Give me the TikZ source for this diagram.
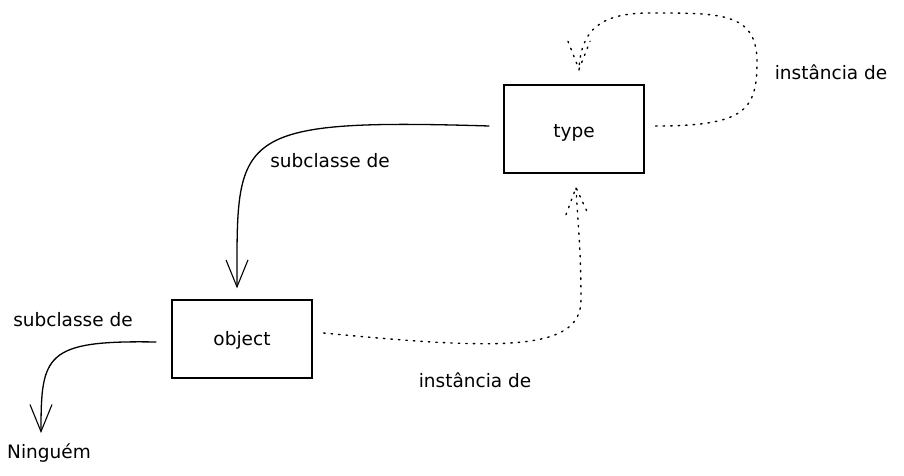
\documentclass[tikz,border=0pt]{standalone}
\usepackage{fontspec}
\setmainfont{DejaVu Sans}
\usetikzlibrary{arrows.meta,calc}
\begin{document}
\begin{tikzpicture}[x=1pt,y=-1pt,
  box/.style={draw=black,line width=1.3pt,minimum width=140pt,inner sep=0pt},
  lbl/.style={font=\fontsize{18.5}{22}\selectfont,inner sep=0pt,anchor=center},
  solidarrow/.style={line width=1.3pt,-{Straight Barb[length=27pt,width=22pt,line width=1.1pt]}},
  dotline/.style={line width=1.4pt,dash pattern=on 1.5pt off 6pt,line cap=round}
]
\useasboundingbox (0,0) rectangle (904,475);
\node[box,minimum height=88pt] (type) at (574,129) {};
\node[lbl] (typetxt) at (574,133) {type};
\node[box,minimum height=78pt] (object) at (242,339) {};
\node[lbl] (objtxt) at (242,340) {object};
% coordinates
\coordinate (s1) at ($(type.west)+(-14,-3)$);
\coordinate (t1) at ($(object.north)+(-5,-11)$);
\coordinate (s2) at ($(object.west)+(-15,3)$);
\coordinate (t2) at (41,433);
\coordinate (s3) at ($(object.east)+(11,-6)$);
\coordinate (t3) at ($(type.south)+(2,14)$);
\coordinate (s4) at ($(type.east)+(11,-3)$);
\coordinate (t4) at ($(type.north)+(5,-15)$);
% solid arrows
\draw[solidarrow] (s1) .. controls (230,118) and (237,135) .. (t1);
\draw[solidarrow] (s2) .. controls (45,340) and (41,355) .. (t2);
% dotted arrows
\draw[dotline] (s3) .. controls (500,350) and (581,352) .. (581,300) .. controls (581,250) and (578,225) .. (t3);
\draw[dotline] ($(t3)+(-10,27)$) -- (t3) -- ($(t3)+(12,26)$);
\draw[dotline] (s4) .. controls (745,126) and (757,110) .. (757,62) .. controls (757,12) and (720,13) .. (650,13) .. controls (600,13) and (581,30) .. (t4);
\draw[dotline] ($(t4)+(-11,-28)$) -- (t4) -- ($(t4)+(11,-28)$);
% labels
\node[lbl] (l1) at (330,161) {subclasse de};
\node[lbl] (l2) at (73,320) {subclasse de};
\node[lbl] (l3) at (831,72) {instância de};
\node[lbl] (l4) at (475,380) {instância de};
\node[lbl] (l5) at (49,453) {Ninguém};
\end{tikzpicture}
\end{document}
